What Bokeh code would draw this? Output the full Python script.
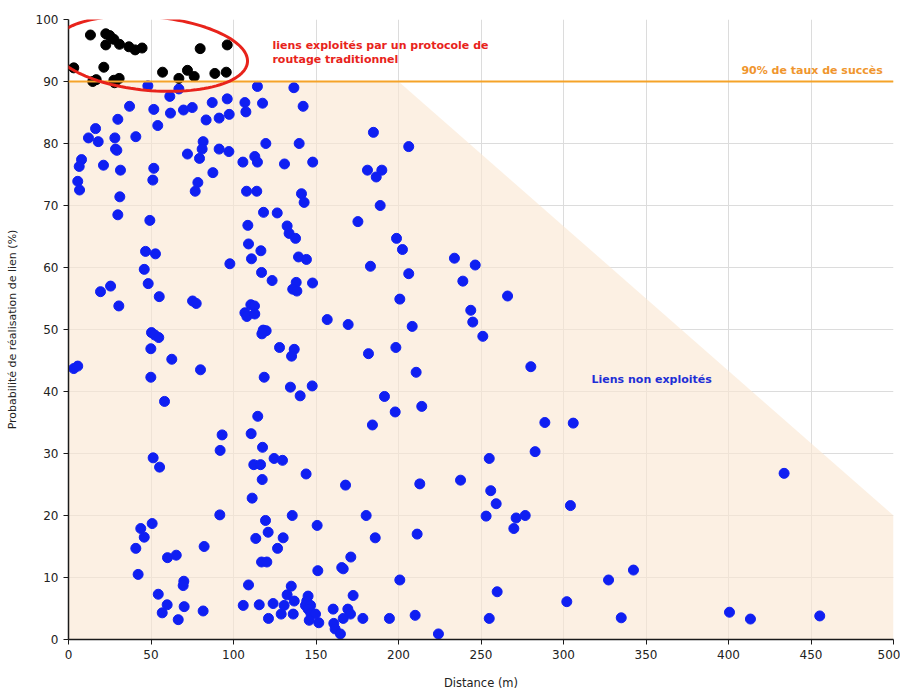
import numpy as np
from bokeh.plotting import figure
from bokeh.models import Range1d, FixedTicker, Span, Label, ColumnDataSource, PolyAnnotation
from bokeh.embed import file_html
from bokeh.resources import INLINE

# ---------------- data ----------------
x_ticks = [0, 50, 100, 150, 200, 250, 300, 350, 400, 450, 500]
y_ticks = [0, 10, 20, 30, 40, 50, 60, 70, 80, 90, 100]

success_threshold = 90

# region of "liens non exploités" (below threshold line, bounded by decreasing limit)
region_distance = [0, 0, 200, 500, 500]
region_prob = [0, 90, 90, 20, 0]

# links exploited by traditional routing (black)
exploited_distance = [3.2, 13.3, 22.6, 25.0, 27.5, 22.6, 30.9, 36.6, 40.4, 44.6,
                      21.4, 14.7, 16.8, 27.5, 27.9, 30.7, 57.0, 66.9, 72.1, 76.2,
                      79.8, 88.7, 95.6, 96.2]
exploited_prob = [92.2, 97.5, 97.7, 97.4, 96.8, 95.9, 96.0, 95.6, 95.1, 95.4,
                  92.3, 90.0, 90.3, 90.2, 89.8, 90.5, 91.5, 90.5, 91.8, 90.8,
                  95.3, 91.3, 91.5, 95.9]

# unexploited links (blue)
unused_distance = [
    48.1, 61.4, 66.9, 37.0, 51.7, 61.8, 69.7, 75.0, 87.1, 96.2,
    114.5, 106.9, 117.6, 136.6, 142.2, 29.9, 54.1, 83.4, 91.3, 97.4,
    107.5, 16.4, 12.1, 18.0, 28.1, 40.8, 28.5, 29.3, 81.6, 81.0,
    91.3, 97.2, 72.1, 79.4, 119.6, 139.8, 105.7, 112.9, 114.5, 130.9,
    148.0, 7.9, 6.5, 21.2, 31.5, 51.7, 51.1, 87.5, 5.6, 6.7,
    78.4, 76.8, 107.9, 114.1, 31.1, 29.9, 49.3, 118.2, 126.5, 141.2,
    142.8, 108.7, 132.5, 133.7, 137.6, 109.1, 116.6, 110.9, 139.4, 144.2,
    46.7, 52.7, 45.9, 97.8, 117.0, 123.4, 138.0, 135.9, 138.4, 147.9,
    19.4, 25.5, 30.5, 48.3, 55.0, 75.2, 77.4, 110.5, 112.7, 106.9,
    108.1, 112.9, 50.3, 52.3, 54.7, 49.9, 62.6, 80.0, 118.0, 119.8,
    117.2, 127.9, 136.8, 135.2, 3.2, 5.6, 49.9, 118.6, 134.5, 140.4,
    147.7, 58.2, 114.7, 110.7, 93.1, 91.9, 117.6, 124.6, 129.7, 51.3,
    55.2, 112.3, 116.4, 117.4, 144.0, 111.3, 91.7, 50.7, 43.8, 45.9,
    40.8, 42.2, 60.0, 65.3, 82.2, 69.9, 69.5, 54.4, 59.8, 56.8,
    66.5, 70.1, 81.6, 119.4, 135.6, 121.0, 113.5, 130.1, 126.7, 117.0,
    120.2, 109.1, 105.9, 115.6, 124.0, 121.2, 135.0, 132.5, 136.8, 130.7,
    128.9, 136.2, 184.8, 206.2, 181.2, 189.9, 186.5, 188.9, 175.4, 198.8,
    202.4, 233.9, 246.5, 183.0, 206.2, 239.0, 266.1, 200.8, 243.8, 245.0,
    156.8, 169.5, 208.3, 251.1, 181.8, 198.4, 210.7, 280.2, 191.5, 214.1,
    198.0, 184.2, 288.7, 305.9, 282.8, 255.0, 167.9, 212.9, 237.6, 255.9,
    259.2, 304.2, 180.4, 253.1, 271.3, 276.8, 269.9, 150.7, 185.9, 211.3,
    171.1, 165.6, 166.5, 151.1, 200.8, 259.8, 302.0, 172.5, 160.4, 169.3,
    170.9, 166.5, 178.4, 194.5, 210.1, 255.0, 151.7, 160.8, 161.6, 164.8,
    224.2, 145.2, 144.4, 143.6, 146.7, 145.2, 146.9, 149.7, 145.9, 433.7,
    342.4, 327.3, 335.0, 400.6, 413.3, 455.3,
]
unused_prob = [
    89.3, 87.6, 88.8, 86.0, 85.5, 84.9, 85.4, 85.8, 86.6, 87.2,
    89.2, 86.6, 86.5, 89.0, 86.0, 83.9, 82.9, 83.8, 84.1, 84.7,
    85.1, 82.4, 80.9, 80.3, 80.9, 81.1, 79.1, 78.9, 80.3, 79.1,
    79.1, 78.7, 78.3, 77.6, 80.0, 80.0, 77.0, 77.9, 77.0, 76.7,
    77.0, 77.4, 76.3, 76.5, 75.7, 76.0, 74.1, 75.3, 73.9, 72.5,
    73.7, 72.3, 72.3, 72.3, 71.4, 68.5, 67.6, 68.9, 68.8, 71.9,
    70.5, 66.8, 66.7, 65.5, 64.7, 63.8, 62.7, 61.4, 61.7, 61.3,
    62.6, 62.2, 59.7, 60.6, 59.2, 57.9, 57.6, 56.5, 56.2, 57.5,
    56.1, 57.0, 53.8, 57.4, 55.3, 54.6, 54.2, 54.0, 53.8, 52.7,
    52.1, 52.5, 49.5, 49.1, 48.7, 46.9, 45.2, 43.5, 49.9, 49.8,
    49.3, 47.1, 46.8, 45.7, 43.7, 44.1, 42.3, 42.3, 40.7, 39.3,
    40.9, 38.4, 36.0, 33.2, 33.0, 30.5, 31.0, 29.2, 28.9, 29.3,
    27.8, 28.2, 28.2, 25.8, 26.7, 22.8, 20.1, 18.7, 17.9, 16.5,
    14.7, 10.5, 13.2, 13.6, 15.0, 9.4, 8.7, 7.3, 5.6, 4.3,
    3.2, 5.3, 4.6, 19.2, 20.0, 17.3, 16.3, 16.4, 14.7, 12.5,
    12.5, 8.8, 5.5, 5.6, 5.8, 3.4, 8.6, 7.2, 6.2, 5.5,
    4.1, 4.1, 81.8, 79.5, 75.7, 75.7, 74.6, 70.0, 67.4, 64.7,
    62.9, 61.5, 60.4, 60.2, 59.0, 57.8, 55.4, 54.9, 53.1, 51.2,
    51.6, 50.8, 50.5, 48.9, 46.1, 47.1, 43.1, 44.0, 39.2, 37.6,
    36.7, 34.6, 35.0, 34.9, 30.3, 29.2, 24.9, 25.1, 25.7, 24.0,
    21.9, 21.6, 20.0, 19.9, 19.6, 20.0, 17.9, 18.4, 16.4, 17.0,
    13.3, 11.6, 11.4, 11.1, 9.6, 7.7, 6.1, 7.1, 4.9, 4.9,
    4.1, 3.4, 3.4, 3.4, 3.9, 3.4, 2.7, 2.6, 1.7, 0.9,
    0.9, 7.0, 6.2, 5.5, 5.5, 4.9, 4.2, 4.1, 3.1, 26.8,
    11.2, 9.6, 3.5, 4.4, 3.3, 3.8,
]

# ---------------- figure ----------------
FONT = "DejaVu Sans"
W, H = 900, 692
BL, BR, BT, BB = 68, 7, 19, 50

p = figure(width=W, height=H, output_backend="svg", toolbar_location=None,
           x_range=Range1d(0, 500), y_range=Range1d(0, 100),
           min_border_left=BL, min_border_right=BR, min_border_top=BT, min_border_bottom=BB)
p.outline_line_color = None
p.background_fill_color = "white"
p.border_fill_color = "white"

# shaded region
p.patch(region_distance, region_prob, fill_color="#fae7d2", fill_alpha=0.62, line_color=None)

# threshold line
p.add_layout(Span(location=success_threshold, dimension="width",
                  line_color="#f5a329", line_width=2))

# red hand-drawn-like loop around the exploited links (derived from their extent)
px_per_x = (W - BL - BR) / 500.0
px_per_y = (H - BT - BB) / 100.0
ex_min, ex_max = min(exploited_distance), max(exploited_distance)
ey_min, ey_max = min(exploited_prob), max(exploited_prob)
cx = (ex_min + ex_max) / 2
cy = (ey_min + ey_max) / 2 + 0.75
a_px = ((ex_max - ex_min) / 2 + 12.5) * px_per_x
b_px = ((ey_max - ey_min) / 2 + 2.0) * px_per_y
t = np.linspace(0, 2 * np.pi, 120)
rot = -0.09
dx = a_px * np.cos(t)
dy = b_px * np.sin(t)
rx = dx * np.cos(rot) - dy * np.sin(rot)
ry = dx * np.sin(rot) + dy * np.cos(rot)
loop_x = list(cx + rx / px_per_x)
loop_y = list(cy + ry / px_per_y)
p.add_layout(PolyAnnotation(xs=loop_x, ys=loop_y, fill_alpha=0, fill_color=None,
                            line_color="#e8231b", line_alpha=1.0, line_width=3))

src_u = ColumnDataSource(dict(x=unused_distance, y=unused_prob))
src_e = ColumnDataSource(dict(x=exploited_distance, y=exploited_prob))
p.scatter("x", "y", source=src_u, size=10, fill_color="#0f1ff2", line_color="#0f1ff2")
p.scatter("x", "y", source=src_e, size=10, fill_color="#000000", line_color="#000000")

# texts
TS = "11px"
p.add_layout(Label(x=123.6, y=95.8, text="liens exploités par un protocole de",
                   text_font=FONT, text_font_size=TS, text_font_style="bold",
                   text_color="#e8231b", text_baseline="middle"))
p.add_layout(Label(x=123.6, y=93.5, text="routage traditionnel",
                   text_font=FONT, text_font_size=TS, text_font_style="bold",
                   text_color="#e8231b", text_baseline="middle"))
p.add_layout(Label(x=493.5, y=91.7, text="90% de taux de succès",
                   text_font=FONT, text_font_size=TS, text_font_style="bold",
                   text_color="#f0962e", text_align="right", text_baseline="middle"))
p.add_layout(Label(x=317, y=41.9, text="Liens non exploités",
                   text_font=FONT, text_font_size=TS, text_font_style="bold",
                   text_color="#1f2fd6", text_baseline="middle"))

# axes
p.xaxis.ticker = FixedTicker(ticks=x_ticks)
p.yaxis.ticker = FixedTicker(ticks=y_ticks)
for ax in (p.xaxis, p.yaxis):
    ax.axis_line_color = "#1a1a1a"
    ax.axis_line_width = 1.5
    ax.major_tick_line_color = "#1a1a1a"
    ax.major_tick_out = 5
    ax.major_tick_in = 0
    ax.minor_tick_line_color = None
    ax.major_label_text_font = FONT
    ax.major_label_text_font_size = "12px"
    ax.major_label_text_color = "#222222"
    ax.axis_label_text_font = FONT
    ax.axis_label_text_font_style = "normal"
    ax.axis_label_text_color = "#222222"

p.xaxis.axis_label = "Distance (m)"
p.xaxis.axis_label_text_font_size = "11.5px"
p.xaxis.axis_label_standoff = 14
p.yaxis.axis_label = "Probabilité de réalisation de lien (%)"
p.yaxis.axis_label_text_font_size = "11px"
p.yaxis.axis_label_standoff = 14

p.xgrid.grid_line_color = "#dcdcdc"
p.ygrid.grid_line_color = "#dcdcdc"

open("out.html", "w").write(file_html(p, INLINE))
